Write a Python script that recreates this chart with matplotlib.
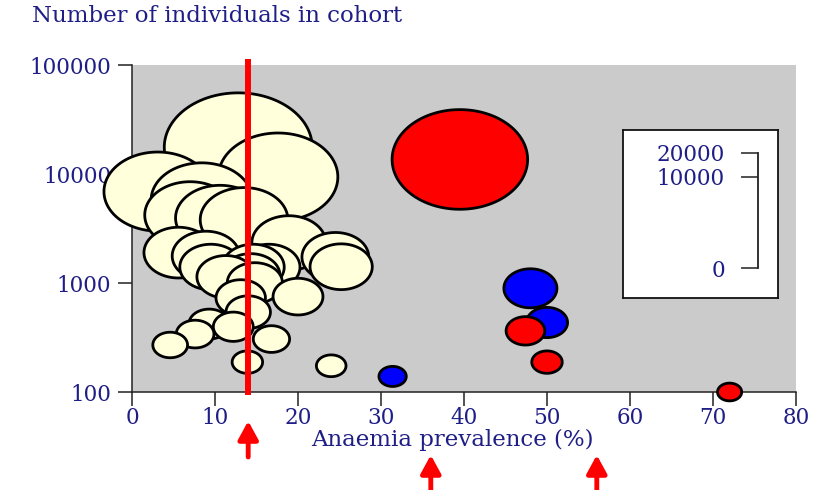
import numpy as np
import matplotlib
matplotlib.use("Agg")
import matplotlib.pyplot as plt
from matplotlib.path import Path

# ---------------- data ----------------
cream_x = [12.8, 17.6, 3.1, 8.4, 7.0, 10.6, 13.5, 18.9, 5.6, 8.9,
           24.5, 9.5, 25.2, 16.5, 14.6, 14.3, 14.8, 11.3, 20.0, 13.1,
           14.0, 9.3, 12.2, 7.6, 16.8, 4.6, 13.9, 24.0]
cream_n = [17600, 9400, 6900, 5770, 4200, 3950, 3800, 2330, 1900, 1770,
           1730, 1400, 1410, 1400, 1400, 1180, 1000, 1140, 750, 730,
           540, 420, 397, 340, 306, 270, 188, 174]
red_x = [39.5, 47.4, 50.0, 72.0]
red_n = [13600, 364, 188, 100]
blue_x = [48.0, 50.0, 31.4]
blue_n = [894, 434, 139]

x_ticks = [0, 10, 20, 30, 40, 50, 60, 70, 80]
y_ticks = [100, 1000, 10000, 100000]
legend_ticks = [0, 10000, 20000]
threshold_x = 14
arrow_x = [14, 36, 56]

title = "Number of individuals in cohort"
xlabel = "Anaemia prevalence (%)"

# ---------------- style ----------------
NAVY = "#1e1e86"
CREAM = "#ffffdc"
FONT = "DejaVu Serif"
W, H, DPI = 815, 490, 100
TICK_FS = 15.5
plt.rcParams["font.family"] = [FONT]

fig = plt.figure(figsize=(W / DPI, H / DPI), dpi=DPI)
ax = fig.add_axes([132 / W, 1 - 392 / H, 664 / W, 327 / H])
ax.set_facecolor("#cbcbcb")

ax.set_xlim(0, 80)
ax.set_yscale("log")
ax.set_ylim(100, 100000)
ax.set_xticks(x_ticks)
ax.set_xticklabels([str(v) for v in x_ticks])
ax.set_yticks(y_ticks)
ax.set_yticklabels([str(v) for v in y_ticks])
ax.yaxis.set_minor_locator(matplotlib.ticker.NullLocator())
ax.tick_params(axis="both", direction="out", length=10, width=1.1,
               color="#222222", labelcolor=NAVY, labelsize=TICK_FS)
ax.tick_params(axis="y", pad=5)
ax.tick_params(axis="x", pad=1)
for s in ("top", "right"):
    ax.spines[s].set_visible(False)
for s in ("left", "bottom"):
    ax.spines[s].set_color("#222222")
    ax.spines[s].set_linewidth(1.1)

# ---------- size legend (bracket) ----------
box = fig.add_axes([623.3 / W, 1 - 298.3 / H, 155 / W, 168.3 / H])
box.set_xticks([]); box.set_yticks([])
box.set_facecolor("white")
for s in box.spines.values():
    s.set_linewidth(1.3); s.set_color("#111111")

br_h = 115.6 / H
bax = fig.add_axes([758.3 / W, 1 - 268.3 / H, 0.004, br_h])
bax.patch.set_visible(False)
bax.set_yscale("function", functions=(np.cbrt, lambda v: v ** 3))
bax.set_ylim(0, max(legend_ticks))
bax.set_yticks(legend_ticks)
bax.set_yticklabels([str(v) for v in legend_ticks])
bax.set_xticks([])
bax.tick_params(axis="y", direction="out", length=12, width=1.1,
                color="#222222", labelcolor=NAVY, labelsize=TICK_FS, pad=12)
for s in ("top", "right", "bottom"):
    bax.spines[s].set_visible(False)
bax.spines["left"].set_color("#222222")
bax.spines["left"].set_linewidth(1.3)

# ---------- bubbles ----------
# bubble height follows the cube-root size scale of the bracket legend;
# the picture is stretched horizontally by ~1.36
STRETCH = 1.36
t = np.linspace(0, 2 * np.pi, 120)
ellipse = Path(np.column_stack([STRETCH * np.cos(t), np.sin(t)]), closed=True)
bracket_px = br_h * H
px_to_pt = 72 / DPI

xs = np.array(cream_x + red_x + blue_x, dtype=float)
ns = np.array(cream_n + red_n + blue_n, dtype=float)
cols = [CREAM] * len(cream_x) + ["#ff0000"] * len(red_x) + ["#0000ff"] * len(blue_x)
h_px = bracket_px * np.cbrt(ns / max(legend_ticks)) - 2.0
width_pt = STRETCH * h_px * px_to_pt
order = np.argsort(-ns, kind="stable")
ax.scatter(xs[order], ns[order], s=width_pt[order] ** 2, marker=ellipse,
           c=[cols[i] for i in order], edgecolors="black", linewidths=2.0,
           zorder=3, clip_on=False)

# threshold line
ax.axvline(threshold_x, ymin=0, ymax=1.01, color="#ff0000", lw=4.3,
           zorder=4, clip_on=False)

# ---------- texts ----------
fig.text(32 / W, 1 - 16 / H, title, ha="left", va="center",
         color=NAVY, fontsize=16.5)
ax.set_xlabel(xlabel, color=NAVY, fontsize=16.5, va="center")
ax.xaxis.set_label_coords((452 - 132) / 664, (392 - 440) / 327)

# ---------- arrows ----------
tr = ax.get_xaxis_transform()
tips = [(392 - 421) / 327, (392 - 455) / 327, (392 - 455) / 327]
tails = [(392 - 457) / 327, (392 - 495) / 327, (392 - 495) / 327]
for xa, yt, yb in zip(arrow_x, tips, tails):
    ax.annotate("", xy=(xa, yt), xytext=(xa, yb), xycoords=tr, textcoords=tr,
                annotation_clip=False,
                arrowprops=dict(arrowstyle="-|>,head_length=0.55,head_width=0.3",
                                color="#ff0000", lw=3.5, mutation_scale=20,
                                shrinkA=0, shrinkB=0))

fig.savefig("out.png", dpi=DPI)
